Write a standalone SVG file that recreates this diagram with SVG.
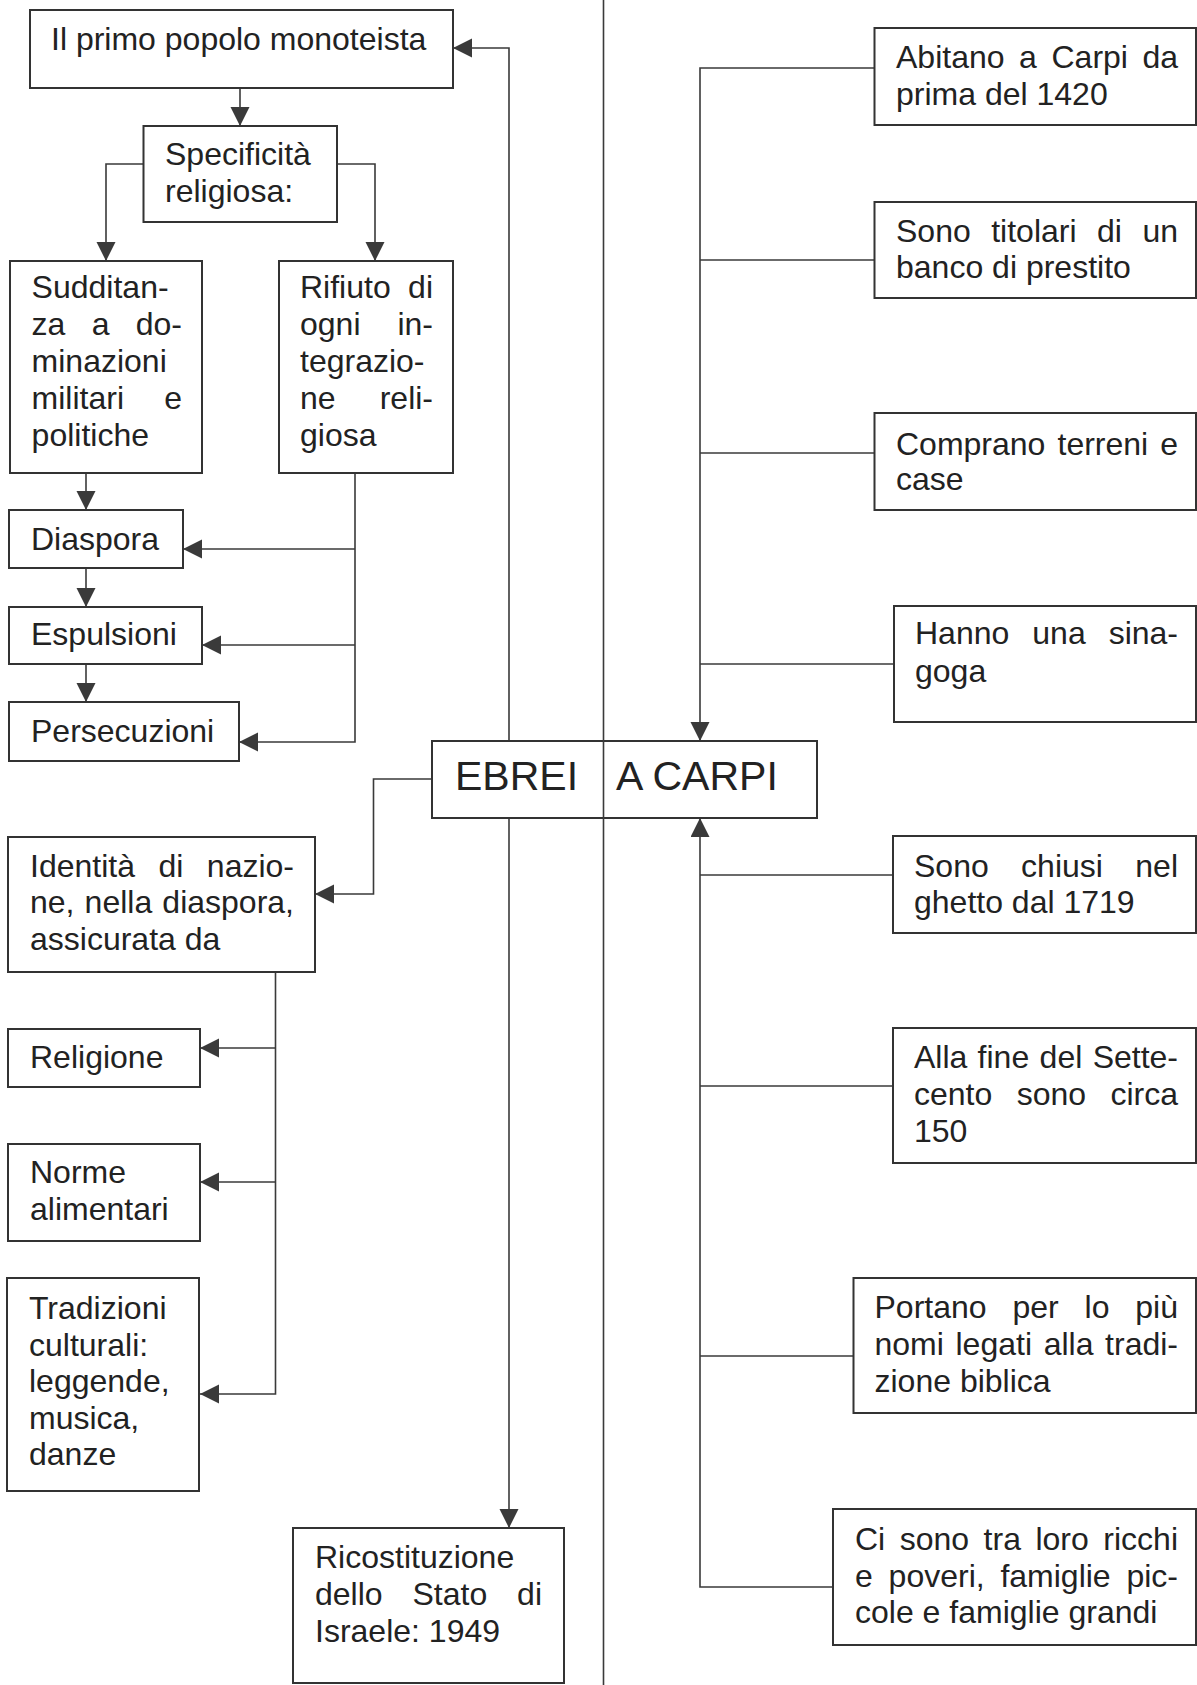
<svg xmlns="http://www.w3.org/2000/svg" width="1197" height="1685" viewBox="0 0 1197 1685">
<style>
.box{fill:#fff;stroke:#333;stroke-width:2}
.ln{fill:none;stroke:#3a3a3a;stroke-width:1.6}
text{font-family:"Liberation Sans",Arial,sans-serif;font-size:32px;fill:#222}
.big{font-size:41px}
.e{text-anchor:end}
</style>
<defs>
<marker id="ah" markerUnits="userSpaceOnUse" markerWidth="20" markerHeight="20" refX="19" refY="9.5" orient="auto">
<path d="M0,0 L19,9.5 L0,19 z" fill="#3a3a3a"/>
</marker>
</defs>
<rect width="1197" height="1685" fill="#fff"/>
<g id="connectors">
<path class="ln" d="M240,88 V126" marker-end="url(#ah)"/>
<path class="ln" d="M143.5,164 H106 V261" marker-end="url(#ah)"/>
<path class="ln" d="M337,164 H375 V261" marker-end="url(#ah)"/>
<path class="ln" d="M86,473 V510" marker-end="url(#ah)"/>
<path class="ln" d="M86,568 V607" marker-end="url(#ah)"/>
<path class="ln" d="M86,664 V702" marker-end="url(#ah)"/>
<path class="ln" d="M355,473 V742 H239" marker-end="url(#ah)"/>
<path class="ln" d="M355,549 H183" marker-end="url(#ah)"/>
<path class="ln" d="M355,645 H202" marker-end="url(#ah)"/>
<path class="ln" d="M509,741 V48 H453" marker-end="url(#ah)"/>
<path class="ln" d="M509,818 V1528" marker-end="url(#ah)"/>
<path class="ln" d="M432,779 H373.5 V894 H315" marker-end="url(#ah)"/>
<path class="ln" d="M275.5,972 V1394 H200" marker-end="url(#ah)"/>
<path class="ln" d="M275.5,1048 H200" marker-end="url(#ah)"/>
<path class="ln" d="M275.5,1182 H200" marker-end="url(#ah)"/>
<path class="ln" d="M874.5,68 H700 V741" marker-end="url(#ah)"/>
<path class="ln" d="M874.5,260 H700"/>
<path class="ln" d="M874.5,453 H700"/>
<path class="ln" d="M894,664 H700"/>
<path class="ln" d="M833,1587 H700 V818" marker-end="url(#ah)"/>
<path class="ln" d="M893,875 H700"/>
<path class="ln" d="M893,1086 H700"/>
<path class="ln" d="M853.5,1356 H700"/>
</g>
<g id="n-primo">
<rect class="box" x="30" y="10" width="423" height="78"/>
<text x="51" y="50">Il primo popolo monoteista</text>
</g>
<g id="n-specificita">
<rect class="box" x="143.5" y="126" width="193.5" height="96"/>
<text x="165" y="165">Specificità</text>
<text x="165" y="202">religiosa:</text>
</g>
<g id="n-sudditanza">
<rect class="box" x="10" y="261" width="192" height="212"/>
<text x="31.6" y="298">Sudditan-</text>
<text y="335"><tspan x="31.6">za</tspan><tspan x="91.7">a</tspan></text>
<text class="e" x="182" y="335">do-</text>
<text x="31.6" y="372">minazioni</text>
<text x="31.6" y="409">militari</text>
<text class="e" x="182" y="409">e</text>
<text x="31.6" y="446">politiche</text>
</g>
<g id="n-rifiuto">
<rect class="box" x="279" y="261" width="174" height="212"/>
<text x="300" y="298">Rifiuto</text>
<text class="e" x="433" y="298">di</text>
<text x="300" y="335">ogni</text>
<text class="e" x="433" y="335">in-</text>
<text x="300" y="372">tegrazio-</text>
<text x="300" y="409">ne</text>
<text class="e" x="433" y="409">reli-</text>
<text x="300" y="446">giosa</text>
</g>
<g id="n-diaspora">
<rect class="box" x="9" y="510" width="174" height="58"/>
<text x="31" y="550">Diaspora</text>
</g>
<g id="n-espulsioni">
<rect class="box" x="9" y="607" width="193" height="57"/>
<text x="31" y="645">Espulsioni</text>
</g>
<g id="n-persecuzioni">
<rect class="box" x="9" y="702" width="230" height="59"/>
<text x="31" y="742">Persecuzioni</text>
</g>
<g id="n-ebrei">
<rect class="box" x="432" y="741" width="385" height="77"/>
<text class="big" x="455" y="790">EBREI</text>
<text class="big" x="616" y="790">A CARPI</text>
</g>
<g id="n-identita">
<rect class="box" x="8" y="837" width="307" height="135"/>
<text x="30" y="877">Identità</text>
<text x="158.5" y="877">di</text>
<text class="e" x="294" y="877">nazio-</text>
<text x="30" y="913">ne,</text>
<text x="84.6" y="913">nella</text>
<text class="e" x="294" y="913">diaspora,</text>
<text x="30" y="950">assicurata da</text>
</g>
<g id="n-religione">
<rect class="box" x="8" y="1029" width="192" height="58"/>
<text x="30" y="1068">Religione</text>
</g>
<g id="n-norme">
<rect class="box" x="8" y="1144" width="192" height="97"/>
<text x="30" y="1183">Norme</text>
<text x="30" y="1220">alimentari</text>
</g>
<g id="n-tradizioni">
<rect class="box" x="7" y="1278" width="192" height="213"/>
<text x="29" y="1319">Tradizioni</text>
<text x="29" y="1356">culturali:</text>
<text x="29" y="1392">leggende,</text>
<text x="29" y="1429">musica,</text>
<text x="29" y="1465">danze</text>
</g>
<g id="n-ricostituzione">
<rect class="box" x="293" y="1528" width="271" height="155"/>
<text x="315" y="1568">Ricostituzione</text>
<text x="315" y="1605">dello</text>
<text x="412.5" y="1605">Stato</text>
<text class="e" x="542" y="1605">di</text>
<text x="315" y="1642">Israele: 1949</text>
</g>
<g id="n-abitano">
<rect class="box" x="874.5" y="28" width="321.5" height="97"/>
<text x="896" y="68">Abitano</text>
<text x="1019.1" y="68">a</text>
<text x="1051.5" y="68">Carpi</text>
<text class="e" x="1178" y="68">da</text>
<text x="896" y="105">prima del 1420</text>
</g>
<g id="n-titolari">
<rect class="box" x="874.5" y="202" width="321.5" height="96"/>
<text x="896" y="242">Sono</text>
<text x="991.2" y="242">titolari</text>
<text x="1097" y="242">di</text>
<text class="e" x="1178" y="242">un</text>
<text x="896" y="278">banco di prestito</text>
</g>
<g id="n-comprano">
<rect class="box" x="874.5" y="413" width="321.5" height="97"/>
<text x="896" y="455">Comprano</text>
<text x="1057.5" y="455">terreni</text>
<text class="e" x="1178" y="455">e</text>
<text x="896" y="490">case</text>
</g>
<g id="n-hanno">
<rect class="box" x="894" y="606" width="302" height="116"/>
<text x="915" y="644">Hanno</text>
<text x="1032.3" y="644">una</text>
<text class="e" x="1178" y="644">sina-</text>
<text x="915" y="682">goga</text>
</g>
<g id="n-chiusi">
<rect class="box" x="893" y="836" width="303" height="97"/>
<text x="914" y="877">Sono</text>
<text x="1021.1" y="877">chiusi</text>
<text class="e" x="1178" y="877">nel</text>
<text x="914" y="913">ghetto dal 1719</text>
</g>
<g id="n-settecento">
<rect class="box" x="893" y="1028" width="303" height="135"/>
<text x="914" y="1068">Alla</text>
<text x="977.6" y="1068">fine</text>
<text x="1039.6" y="1068">del</text>
<text class="e" x="1178" y="1068">Sette-</text>
<text x="914" y="1105">cento</text>
<text x="1016.7" y="1105">sono</text>
<text class="e" x="1178" y="1105">circa</text>
<text x="914" y="1142">150</text>
</g>
<g id="n-portano">
<rect class="box" x="853.5" y="1278" width="342.5" height="135"/>
<text x="874.5" y="1318">Portano</text>
<text x="1012.5" y="1318">per</text>
<text x="1084.6" y="1318">lo</text>
<text class="e" x="1178" y="1318">più</text>
<text x="874.5" y="1355">nomi</text>
<text x="955.5" y="1355">legati</text>
<text x="1043.7" y="1355">alla</text>
<text class="e" x="1178" y="1355">tradi-</text>
<text x="874.5" y="1392">zione biblica</text>
</g>
<g id="n-ricchi">
<rect class="box" x="833" y="1509" width="363" height="136"/>
<text x="855" y="1550">Ci</text>
<text x="899.7" y="1550">sono</text>
<text x="983.6" y="1550">tra</text>
<text x="1035.4" y="1550">loro</text>
<text class="e" x="1178" y="1550">ricchi</text>
<text x="855" y="1587">e</text>
<text x="888.6" y="1587">poveri,</text>
<text x="1000.4" y="1587">famiglie</text>
<text class="e" x="1178" y="1587">pic-</text>
<text x="855" y="1623">cole e famiglie grandi</text>
</g>
<g id="divider">
<path class="ln" d="M603.5,0 V1685"/>
</g>
</svg>
